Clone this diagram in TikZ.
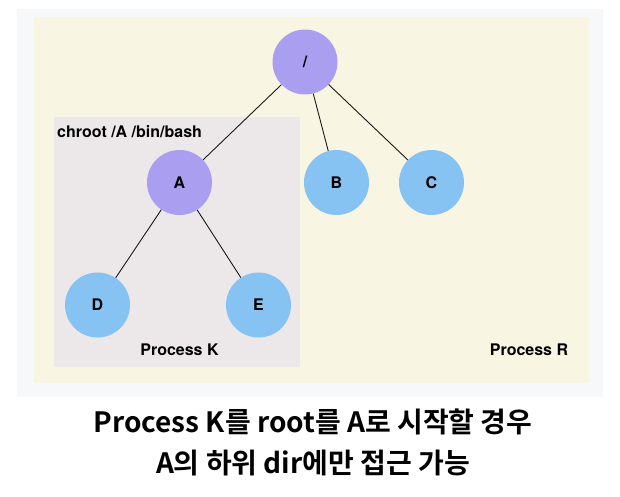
\documentclass[tikz,border=0pt]{standalone}
\usepackage{fontspec}
\setmainfont{TeX Gyre Heros}
\newfontfamily\krfont{Noto Sans CJK KR}[BoldFont={Noto Sans CJK KR Bold}]
\definecolor{panel}{RGB}{247,248,250}
\definecolor{cream}{RGB}{248,245,227}
\definecolor{boxgray}{RGB}{236,232,233}
\definecolor{purp}{RGB}{170,158,240}
\definecolor{sky}{RGB}{134,195,242}

\begin{document}
\begin{tikzpicture}[x=1pt,y=-1pt,
    dirnode/.style={circle,minimum size=65pt,inner sep=0pt,
        font=\bfseries\fontsize{16}{16}\selectfont},
    rootdir/.style={dirnode,fill=purp},
    subdir/.style={dirnode,fill=sky},
    label/.style={font=\bfseries\fontsize{16}{16}\selectfont},
    note/.style={font=\krfont\bfseries\fontsize{28}{28}\selectfont},
    link/.style={draw=black!90,line width=0.9pt}]
\useasboundingbox (0,0) rectangle (620,496);
\fill[panel] (17,9) rectangle (603,397);
\fill[cream] (34,17) rectangle (589,383);
\fill[boxgray] (53.5,117) rectangle (300,367);
\node[label,anchor=base west,inner sep=0pt] (cmd) at (57,137) {chroot /A /bin/bash};
\node[rootdir] (root) at (305,62) {/};
\node[rootdir] (A) at (179.5,182.5) {A};
\node[subdir] (B) at (336.5,182.5) {B};
\node[subdir] (C) at (431.5,182.5) {C};
\node[subdir] (D) at (97.5,305) {D};
\node[subdir] (E) at (258.5,305) {E};
\node[label] (procK) at (179.5,350) {Process K};
\node[label] (procR) at (529,350) {Process R};
\draw[link] (root) -- (A);
\draw[link] (root) -- (B);
\draw[link] (root) -- (C);
\draw[link] (A) -- (D);
\draw[link] (A) -- (E);
\node[note] (note1) at (313,422) {Process K를 root를 A로 시작할 경우};
\node[note] (note2) at (313,463) {A의 하위 dir에만 접근 가능};
\end{tikzpicture}
\end{document}
